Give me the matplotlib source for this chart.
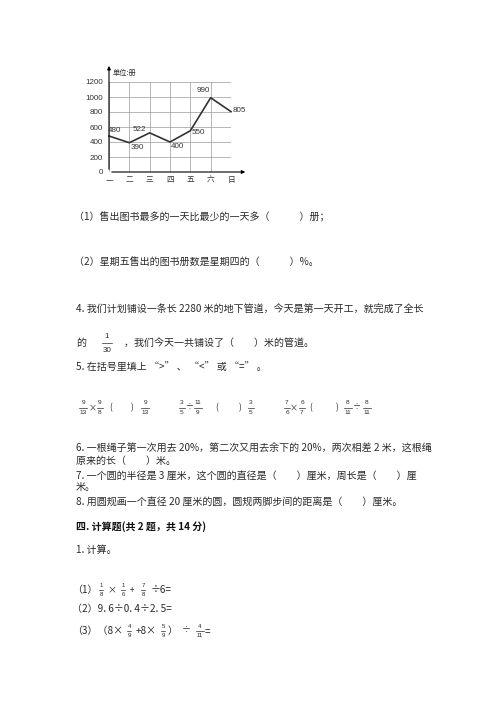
import matplotlib
matplotlib.use("Agg")
import matplotlib.pyplot as plt
from matplotlib.lines import Line2D

plt.rcParams['font.family'] = ['Noto Sans CJK SC', 'DejaVu Sans']

# chart data
days = ['一', '二', '三', '四', '五', '六', '日']
sold = [480, 390, 522, 400, 550, 990, 805]
y_ticks = [0, 200, 400, 600, 800, 1000, 1200]
unit_label = '单位:册'

W, H = 500, 707
PT = 0.72  # points per pixel at dpi 100
INK = '#2a2a2a'
DIGITS = ['Liberation Sans', 'DejaVu Sans']

fig = plt.figure(figsize=(5, 7.07), dpi=100)


def put(x, y, s, px=10, **kw):
    kw.setdefault('ha', 'left')
    kw.setdefault('va', 'center')
    kw.setdefault('color', INK)
    fig.text(x / W, 1 - y / H, s, fontsize=px * PT, **kw)


def frac(xc, yc, num, den, px=6.5, gap=4.5):
    put(xc, yc - gap, num, px, ha='center', family=DIGITS)
    put(xc, yc + gap, den, px, ha='center', family=DIGITS)
    w = max(len(num), len(den)) * px * 0.55 + 1.5
    fig.add_artist(Line2D([(xc - w / 2) / W, (xc + w / 2) / W],
                          [1 - yc / H, 1 - yc / H], lw=0.5, color=INK))


# ---- line chart ----
ax = fig.add_axes([109 / W, 1 - 172 / H, 122 / W, 90 / H])
ax.plot(range(len(days)), sold, color='#333333', lw=1.2, clip_on=False, zorder=3)
ax.set_xlim(0, len(days) - 1)
ax.set_ylim(0, y_ticks[-1])
ax.set_xticks(range(len(days)))
ax.set_xticklabels(days)
ax.set_yticks(y_ticks)
ax.grid(True, color='#9a9a9a', lw=0.5)
ax.tick_params(axis='y', length=0, labelsize=5.8, pad=4.3, labelcolor='#333')
ax.tick_params(axis='x', length=0, labelsize=5.5, pad=3, labelcolor='#333')
for lab in ax.get_yticklabels():
    lab.set_family(DIGITS)
for s in ax.spines.values():
    s.set_visible(False)
ax.annotate('', xy=(1.14, 0), xytext=(0, 0), xycoords='axes fraction',
            arrowprops=dict(arrowstyle='-|>', color='black', lw=0.8, mutation_scale=5))
ax.annotate('', xy=(0, 1.21), xytext=(0, 0), xycoords='axes fraction',
            arrowprops=dict(arrowstyle='-|>', color='black', lw=0.8, mutation_scale=5))
ax.text(0.03, 1.1, unit_label, transform=ax.transAxes, fontsize=5.2,
        ha='left', va='center', color='#333')

offsets = [(6, 6), (8, -5), (-10, 3), (7, -4), (8, -2), (-7, 7), (8, 1)]
for i, (v, (dx, dy)) in enumerate(zip(sold, offsets)):
    ax.annotate(str(v), (i, v), xytext=(dx * PT, dy * PT), textcoords='offset points',
                ha='center', va='center', fontsize=5.8, color='#333', family=DIGITS)

# ---- questions ----
put(74, 217, '（1）售出图书最多的一天比最少的一天多（　　　）册；')
put(74, 263, '（2）星期五售出的图书册数是星期四的（　　　）%。')
put(76, 310, '4. 我们计划铺设一条长 2280 米的地下管道，今天是第一天开工，就完成了全长')
put(76, 343, '的')
frac(107, 343.5, '1', '30', px=8, gap=6.5)
put(124, 343, '，我们今天一共铺设了（　　）米的管道。')

put(76, 367, '5. 在括号里填上 “>” 、 “<” 或 “=” 。')
fy = 407.5
frac(83, fy, '9', '13')
put(93, fy, '×', 8, ha='center')
frac(100, fy, '9', '8')
put(111, fy, '(', 8, ha='center')
put(132, fy, ')', 8, ha='center')
frac(145, fy, '9', '13')
frac(182, fy, '3', '5')
put(190, fy, '÷', 8, ha='center')
frac(198, fy, '11', '9')
put(217, fy, '(', 8, ha='center')
put(240, fy, ')', 8, ha='center')
frac(251, fy, '3', '5')
frac(287, fy, '7', '6')
put(294, fy, '×', 8, ha='center')
frac(302, fy, '6', '7')
put(311, fy, '(', 8, ha='center')
put(337, fy, ')', 8, ha='center')
frac(348, fy, '8', '11')
put(357, fy, '÷', 8, ha='center')
frac(367, fy, '8', '11')

put(76, 449, '6. 一根绳子第一次用去 20%，第二次又用去余下的 20%，两次相差 2 米，这根绳')
put(76, 461, '原来的长（　　）米。')
put(76, 476, '7. 一个圆的半径是 3 厘米，这个圆的直径是（　　）厘米，周长是（　　）厘')
put(76, 487, '米。')
put(76, 502, '8. 用圆规画一个直径 20 厘米的圆，圆规两脚步间的距离是（　　）厘米。')

put(76, 527, '四. 计算题(共 2 题，共 14 分)', fontweight='bold', color='#111')
put(76, 550, '1. 计算。')

ry = 590
put(72, ry, '（1）')
frac(101, ry, '1', '8', px=6, gap=4.5)
put(112, ry, '×', 9, ha='center')
frac(123, ry, '1', '6', px=6, gap=4.5)
put(132, ry, '+', 8, ha='center')
frac(143, ry, '7', '8', px=6, gap=4.5)
put(151, ry, '÷6=')
put(72, 609, '（2）9. 6÷0. 4÷2. 5=')
ry = 631
put(72, ry, '（3）（8×')
frac(129, ry, '4', '9', px=6, gap=4.5)
put(136, ry, '+8×')
frac(163, ry, '5', '9', px=6, gap=4.5)
put(168, ry, '）')
put(186, ry, '÷', 9, ha='center')
frac(200, ry, '4', '11', px=6, gap=4.5)
put(205, ry, '=')

fig.savefig('out.png', dpi=100)
